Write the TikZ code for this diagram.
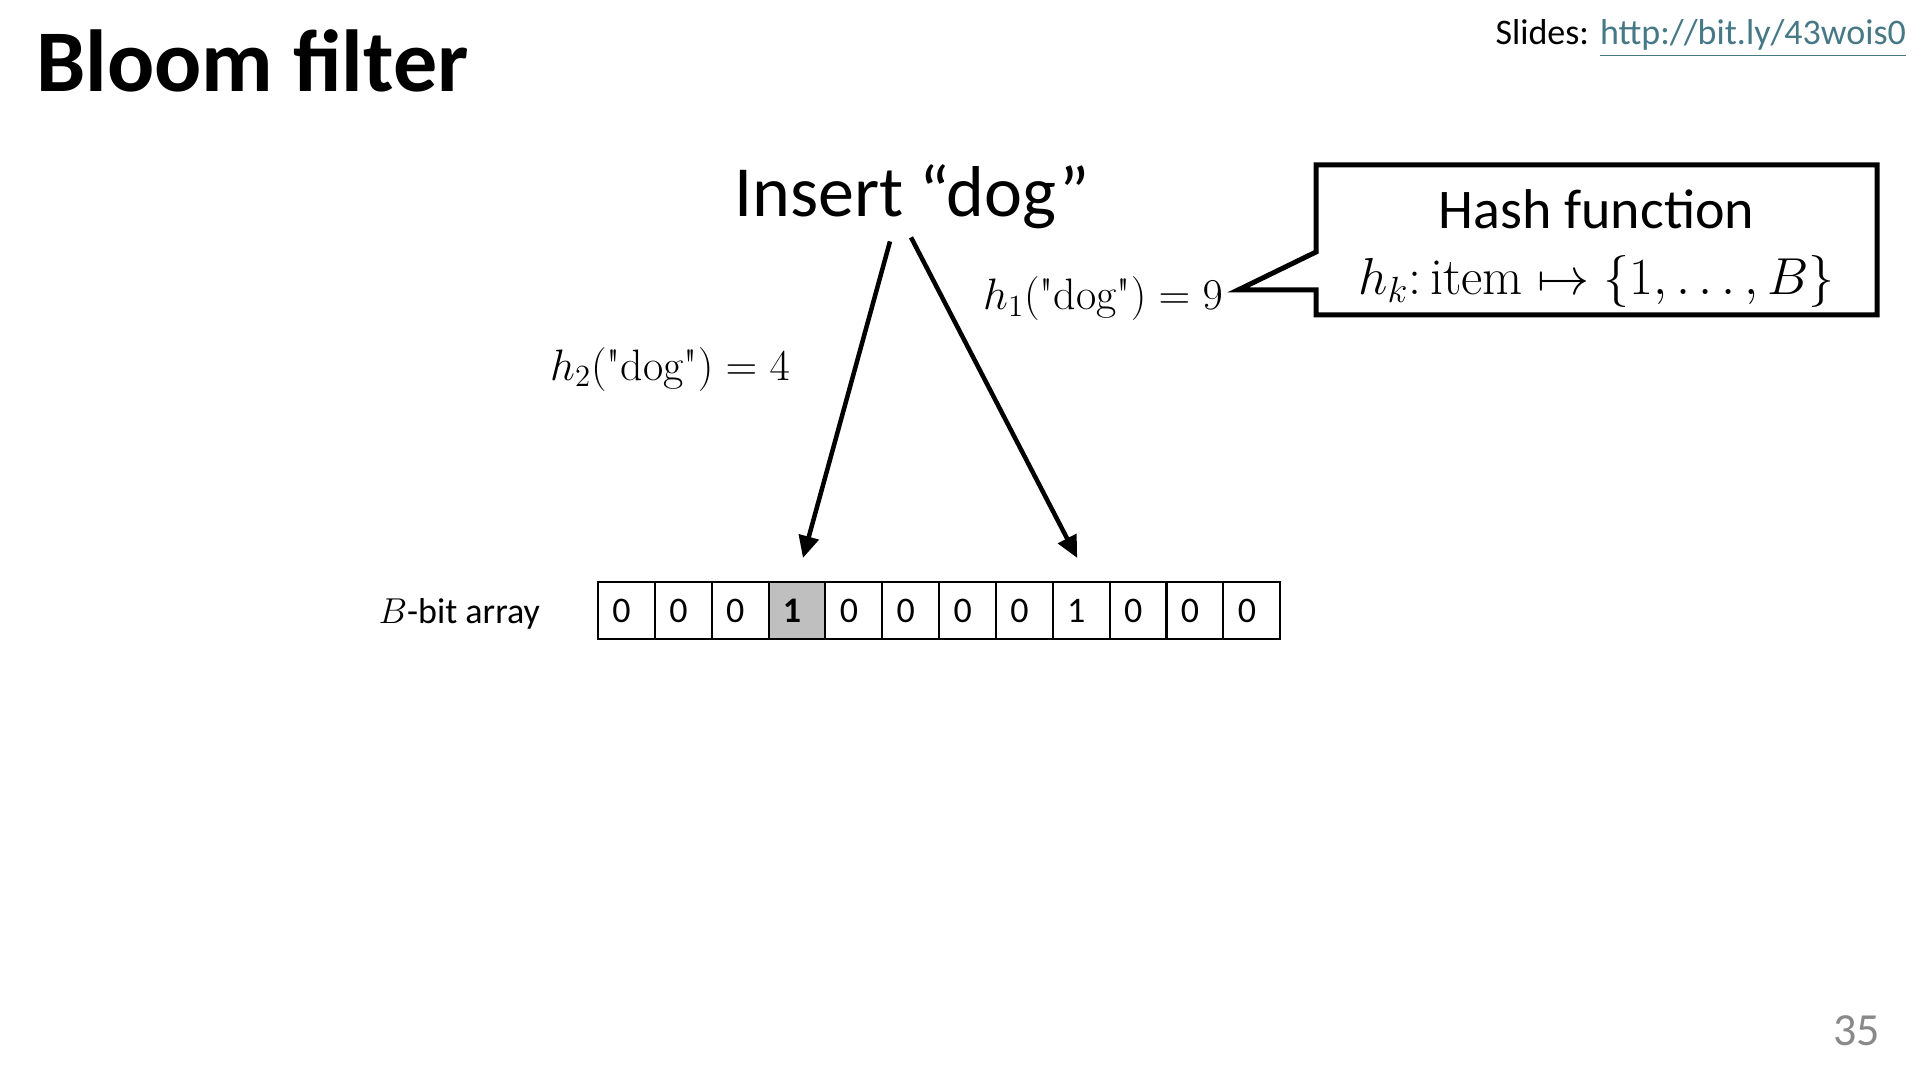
\documentclass[tikz,border=0pt]{standalone}
\usepackage{fix-cm}
\usepackage{amsmath}
\usepackage{fontspec}
\setsansfont{Carlito}
\usepackage{tikz}
\usetikzlibrary{arrows.meta,positioning}
\definecolor{linkTeal}{RGB}{70,120,134}
\definecolor{hitGray}{RGB}{191,191,191}
\definecolor{pageGray}{RGB}{137,137,137}

\begin{document}
\begin{tikzpicture}[x=0.5pt,y=-0.5pt,
    every node/.style={inner sep=0pt, outer sep=0pt},
    ttl/.style={font=\sffamily\bfseries\fontsize{44}{53}\selectfont, anchor=base west},
    hdr/.style={font=\sffamily\fontsize{36}{43}\selectfont, anchor=base},
    hlbl/.style={font=\fontsize{22}{26}\selectfont, anchor=base},
    small/.style={font=\sffamily\fontsize{18}{22}\selectfont},
    cell/.style={small, draw, line width=1pt, minimum height=28.5pt,
      text width=14pt, inner xsep=7.2pt, align=left},
    hit/.style={cell, fill=hitGray, font=\sffamily\bfseries\fontsize{18}{22}\selectfont},
    hashbox/.style={minimum width=280.5pt, minimum height=75pt, align=center,
      font=\sffamily\fontsize{28}{33}\selectfont},
    arr/.style={-{Triangle[length=11pt,width=10pt]}, line width=2.25pt}
  ]
  \useasboundingbox (0,0) rectangle (1920,1080);

  % Header
  \node[ttl] (title) at (36,92) {Bloom filter};
  \node[small, anchor=base east] (slides) at (1906,45)
    {Slides: \textcolor{linkTeal}{\underline{http://bit.ly/43wois0}}};
  \node[font=\sffamily\fontsize{23}{28}\selectfont, text=pageGray, anchor=base east]
    (pnum) at (1880,1045) {35};

  % Item to insert
  \node[hdr] (ins) at (912,217) {Insert “dog”};

  % Hash function callout
  \node[hashbox] (hash) at (1596.5,240)
    {\rule{0pt}{28pt}Hash function\\
     {\fontsize{26}{31}\selectfont$h_k{:}\,\mathrm{item} \mapsto \{1, \ldots, B\}$}};
  \coordinate (tip) at (1238,290);
  \draw[line width=2.5pt] (hash.north west) -- (hash.north east)
    -- (hash.south east) -- (hash.south west) -- ([yshift=-25pt]hash.west)
    -- (tip) -- ([yshift=-6pt]hash.west) -- cycle;

  % Bit array
  \node[small, anchor=base east] (blbl) at (540,623) {$B$-bit array};
  \foreach \b/\sty [count=\i] in {0/cell,0/cell,0/cell,\textbf{1}/hit,0/cell,0/cell,
      0/cell,0/cell,1/cell,0/cell,0/cell,0/cell}
    \node[\sty] (c\i) at ({598+(\i-0.5)*56.85},610.5) {\b};

  % Hash values
  \node[hlbl] (h2) at (670,380) {$h_2(\textrm{\textquotedbl dog\textquotedbl}) = 4$};
  \node[hlbl] (h1) at (1103,310) {$h_1(\textrm{\textquotedbl dog\textquotedbl}) = 9$};

  % Arrows
  \draw[arr] ([xshift=-11pt,yshift=-6pt]ins.south) -- ([xshift=3pt,yshift=12pt]c4.north);
  \draw[arr] ([xshift=-0.5pt,yshift=-4pt]ins.south) -- ([xshift=-2pt,yshift=12pt]c9.north);
\end{tikzpicture}
\end{document}
